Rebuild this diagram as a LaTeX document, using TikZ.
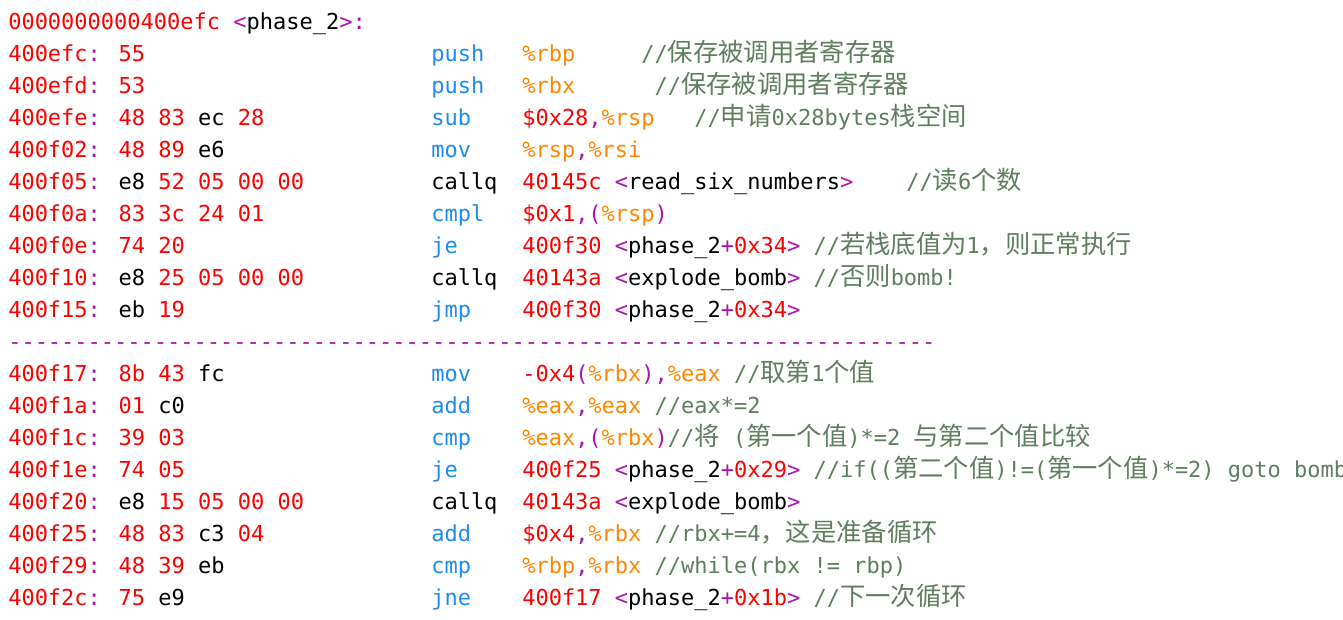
\documentclass[tikz,border=0pt]{standalone}
\usepackage{fontspec}
\setmainfont[Ligatures=TeXOff]{DejaVu Sans Mono}
\newfontfamily\cjk[Scale=1.15]{Noto Sans CJK SC}
\usepackage{tikz}

\definecolor{hexred}{RGB}{255,0,0}
\definecolor{punct}{RGB}{170,20,170}
\definecolor{mnem}{RGB}{30,140,240}
\definecolor{regs}{RGB}{255,135,0}
\definecolor{cmnt}{RGB}{95,125,95}
\newcommand{\cR}[1]{\textcolor{hexred}{#1}}
\newcommand{\cP}[1]{\textcolor{punct}{#1}}
\newcommand{\cB}[1]{\textcolor{mnem}{#1}}
\newcommand{\cO}[1]{\textcolor{regs}{#1}}
\newcommand{\cG}[1]{\textcolor{cmnt}{#1}}
\newcommand{\zh}[1]{{\cjk #1}}
\newcommand{\fn}[1]{\cP{<}#1\cP{>}}

\begin{document}
\begin{tikzpicture}[x=0.75pt,y=-0.75pt,
  ln/.style={anchor=base west,inner sep=0pt,font=\fontsize{16.5}{18}\selectfont}]
\useasboundingbox[fill=white] (0,0) rectangle (1343,619);
% header
\node[ln] (h) at (8,29) {\cR{0000000000400efc} \fn{phase\_2}\cP{:}};
% first block
\node[ln] (a1) at (8,61) {\cR{400efc}\cP{:} \cR{55}};
\node[ln] (m1) at (431,61) {\cB{push}};
\node[ln] (o1) at (522,61) {\cO{\%rbp}~~~~~\cG{//\zh{保存被调用者寄存器}}};
\node[ln] (a2) at (8,93) {\cR{400efd}\cP{:} \cR{53}};
\node[ln] (m2) at (431,93) {\cB{push}};
\node[ln] (o2) at (522,93) {\cO{\%rbx}~~~~~~\cG{//\zh{保存被调用者寄存器}}};
\node[ln] (a3) at (8,125) {\cR{400efe}\cP{:} \cR{48 83} ec \cR{28}};
\node[ln] (m3) at (431,125) {\cB{sub}};
\node[ln] (o3) at (522,125) {\cR{\$0x28}\cP{,}\cO{\%rsp}~~~\cG{//\zh{申请}0x28bytes\zh{栈空间}}};
\node[ln] (a4) at (8,157) {\cR{400f02}\cP{:} \cR{48 89} e6};
\node[ln] (m4) at (431,157) {\cB{mov}};
\node[ln] (o4) at (522,157) {\cO{\%rsp}\cP{,}\cO{\%rsi}};
\node[ln] (a5) at (8,189) {\cR{400f05}\cP{:} e8 \cR{52 05 00 00}};
\node[ln] (m5) at (431,189) {callq};
\node[ln] (o5) at (522,189) {\cR{40145c} \fn{read\_six\_numbers}~~~~\cG{//\zh{读}6\zh{个数}}};
\node[ln] (a6) at (8,221) {\cR{400f0a}\cP{:} \cR{83 3c 24 01}};
\node[ln] (m6) at (431,221) {\cB{cmpl}};
\node[ln] (o6) at (522,221) {\cR{\$0x1}\cP{,(}\cO{\%rsp}\cP{)}};
\node[ln] (a7) at (8,253) {\cR{400f0e}\cP{:} \cR{74 20}};
\node[ln] (m7) at (431,253) {\cB{je}};
\node[ln] (o7) at (522,253) {\cR{400f30} \fn{phase\_2\cP{+}\cR{0x34}} \cG{//\zh{若栈底值为}1\zh{，则正常执行}}};
\node[ln] (a8) at (8,285) {\cR{400f10}\cP{:} e8 \cR{25 05 00 00}};
\node[ln] (m8) at (431,285) {callq};
\node[ln] (o8) at (522,285) {\cR{40143a} \fn{explode\_bomb} \cG{//\zh{否则}bomb!}};
\node[ln] (a9) at (8,317) {\cR{400f15}\cP{:} eb \cR{19}};
\node[ln] (m9) at (431,317) {\cB{jmp}};
\node[ln] (o9) at (522,317) {\cR{400f30} \fn{phase\_2\cP{+}\cR{0x34}}};
% separator
\node[ln] (sep) at (8,349) {\cP{----------------------------------------------------------------------}};
% loop block
\node[ln] (a11) at (8,381) {\cR{400f17}\cP{:} \cR{8b 43} fc};
\node[ln] (m11) at (431,381) {\cB{mov}};
\node[ln] (o11) at (522,381) {\cR{-0x4}\cP{(}\cO{\%rbx}\cP{),}\cO{\%eax} \cG{//\zh{取第}1\zh{个值}}};
\node[ln] (a12) at (8,413) {\cR{400f1a}\cP{:} \cR{01} c0};
\node[ln] (m12) at (431,413) {\cB{add}};
\node[ln] (o12) at (522,413) {\cO{\%eax}\cP{,}\cO{\%eax} \cG{//eax*=2}};
\node[ln] (a13) at (8,445) {\cR{400f1c}\cP{:} \cR{39 03}};
\node[ln] (m13) at (431,445) {\cB{cmp}};
\node[ln] (o13) at (522,445) {\cO{\%eax}\cP{,(}\cO{\%rbx}\cP{)}\cG{//\zh{将} (\zh{第一个值})*=2 \zh{与第二个值比较}}};
\node[ln] (a14) at (8,477) {\cR{400f1e}\cP{:} \cR{74 05}};
\node[ln] (m14) at (431,477) {\cB{je}};
\node[ln] (o14) at (522,477) {\cR{400f25} \fn{phase\_2\cP{+}\cR{0x29}} \cG{//if((\zh{第二个值})!=(\zh{第一个值})*=2) goto bomb}};
\node[ln] (a15) at (8,509) {\cR{400f20}\cP{:} e8 \cR{15 05 00 00}};
\node[ln] (m15) at (431,509) {callq};
\node[ln] (o15) at (522,509) {\cR{40143a} \fn{explode\_bomb}};
\node[ln] (a16) at (8,541) {\cR{400f25}\cP{:} \cR{48 83} c3 \cR{04}};
\node[ln] (m16) at (431,541) {\cB{add}};
\node[ln] (o16) at (522,541) {\cR{\$0x4}\cP{,}\cO{\%rbx} \cG{//rbx+=4\zh{，这是准备循环}}};
\node[ln] (a17) at (8,573) {\cR{400f29}\cP{:} \cR{48 39} eb};
\node[ln] (m17) at (431,573) {\cB{cmp}};
\node[ln] (o17) at (522,573) {\cO{\%rbp}\cP{,}\cO{\%rbx} \cG{//while(rbx != rbp)}};
\node[ln] (a18) at (8,605) {\cR{400f2c}\cP{:} \cR{75} e9};
\node[ln] (m18) at (431,605) {\cB{jne}};
\node[ln] (o18) at (522,605) {\cR{400f17} \fn{phase\_2\cP{+}\cR{0x1b}} \cG{//\zh{下一次循环}}};
\end{tikzpicture}
\end{document}
